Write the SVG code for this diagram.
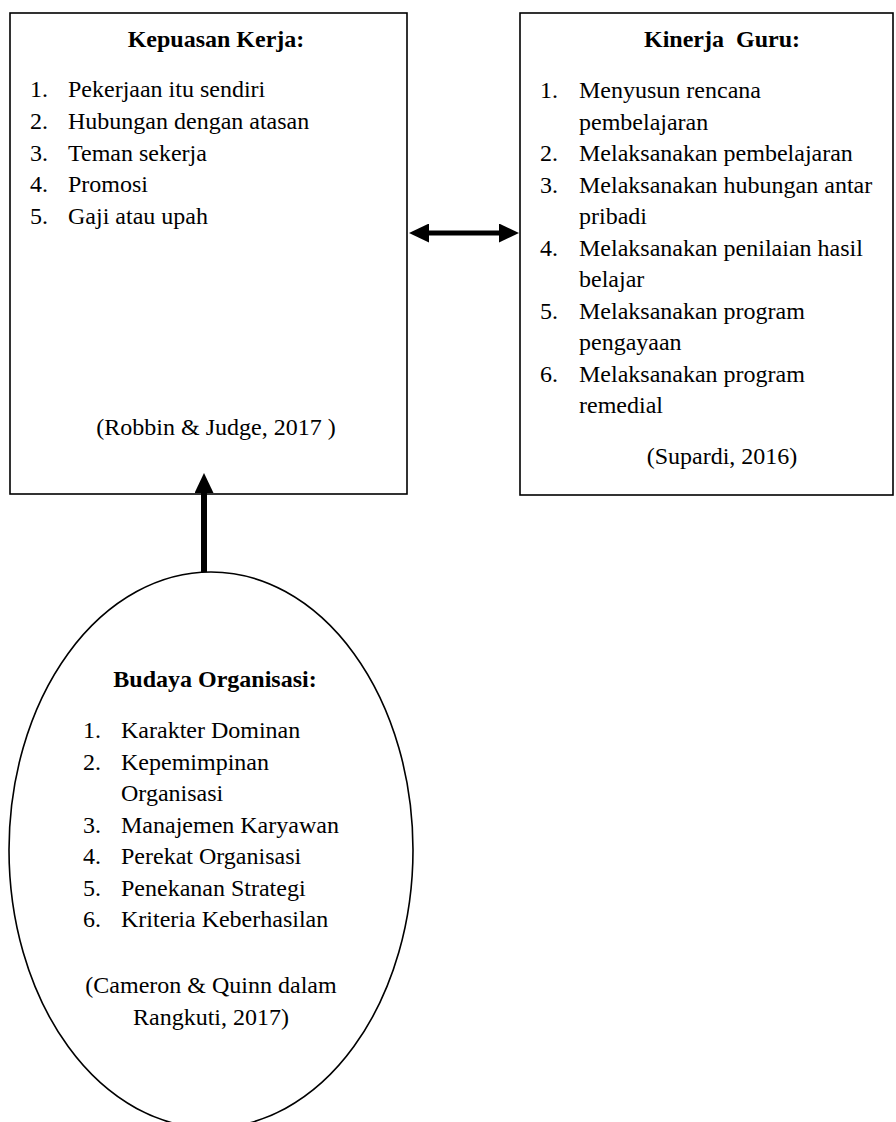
<svg xmlns="http://www.w3.org/2000/svg" width="896" height="1122" viewBox="0 0 896 1122">
<style>
.box{fill:#fff;stroke:#000;stroke-width:1.6}
.t{font-family:"Liberation Serif","Times New Roman",serif;font-size:24px;fill:#000}
.b{font-weight:bold}
.c{text-anchor:middle}
.conn{stroke:#000;fill:none}
</style>
<defs>
<marker id="ah" viewBox="0 0 20 19" refX="0" refY="9.5" markerWidth="20" markerHeight="19" markerUnits="userSpaceOnUse" orient="auto-start-reverse">
<path d="M0,0 L20,9.5 L0,19 z" fill="#000"/>
</marker>
</defs>
<rect width="896" height="1122" fill="#fff"/>
<g id="kepuasan">
<rect class="box" x="10" y="13" width="397" height="481"/>
<text class="t b c" x="216" y="47">Kepuasan Kerja:</text>
<text class="t" x="30" y="97">1.</text><text class="t" x="68" y="97">Pekerjaan itu sendiri</text>
<text class="t" x="30" y="129">2.</text><text class="t" x="68" y="129">Hubungan dengan atasan</text>
<text class="t" x="30" y="161">3.</text><text class="t" x="68" y="161">Teman sekerja</text>
<text class="t" x="30" y="192">4.</text><text class="t" x="68" y="192">Promosi</text>
<text class="t" x="30" y="224">5.</text><text class="t" x="68" y="224">Gaji atau upah</text>
<text class="t c" x="216" y="435">(Robbin &amp; Judge, 2017 )</text>
</g>
<g id="kinerja">
<rect class="box" x="520" y="13" width="373" height="482"/>
<text class="t b c" x="722" y="47" xml:space="preserve">Kinerja  Guru:</text>
<text class="t" x="540" y="98">1.</text><text class="t" x="579" y="98">Menyusun rencana</text>
<text class="t" x="579" y="129.5">pembelajaran</text>
<text class="t" x="540" y="161">2.</text><text class="t" x="579" y="161">Melaksanakan pembelajaran</text>
<text class="t" x="540" y="192.5">3.</text><text class="t" x="579" y="192.5">Melaksanakan hubungan antar</text>
<text class="t" x="579" y="224">pribadi</text>
<text class="t" x="540" y="255.5">4.</text><text class="t" x="579" y="255.5">Melaksanakan penilaian hasil</text>
<text class="t" x="579" y="287">belajar</text>
<text class="t" x="540" y="318.5">5.</text><text class="t" x="579" y="318.5">Melaksanakan program</text>
<text class="t" x="579" y="350">pengayaan</text>
<text class="t" x="540" y="381.5">6.</text><text class="t" x="579" y="381.5">Melaksanakan program</text>
<text class="t" x="579" y="413">remedial</text>
<text class="t c" x="722" y="464">(Supardi, 2016)</text>
</g>
<g id="budaya">
<ellipse class="box" cx="211" cy="850" rx="202" ry="278"/>
<text class="t b c" x="215" y="687">Budaya Organisasi:</text>
<text class="t" x="83" y="738">1.</text><text class="t" x="121" y="738">Karakter Dominan</text>
<text class="t" x="83" y="769.5">2.</text><text class="t" x="121" y="769.5">Kepemimpinan</text>
<text class="t" x="121" y="801">Organisasi</text>
<text class="t" x="83" y="832.5">3.</text><text class="t" x="121" y="832.5">Manajemen Karyawan</text>
<text class="t" x="83" y="864">4.</text><text class="t" x="121" y="864">Perekat Organisasi</text>
<text class="t" x="83" y="895.5">5.</text><text class="t" x="121" y="895.5">Penekanan Strategi</text>
<text class="t" x="83" y="927">6.</text><text class="t" x="121" y="927">Kriteria Keberhasilan</text>
<text class="t c" x="211" y="993">(Cameron &amp; Quinn dalam</text>
<text class="t c" x="211" y="1025">Rangkuti, 2017)</text>
</g>
<g id="connectors">
<line class="conn" x1="429" y1="233" x2="499" y2="233" stroke-width="5" marker-start="url(#ah)" marker-end="url(#ah)"/>
<line class="conn" x1="204" y1="572" x2="204" y2="493" stroke-width="6" marker-end="url(#ah)"/>
</g>
</svg>
